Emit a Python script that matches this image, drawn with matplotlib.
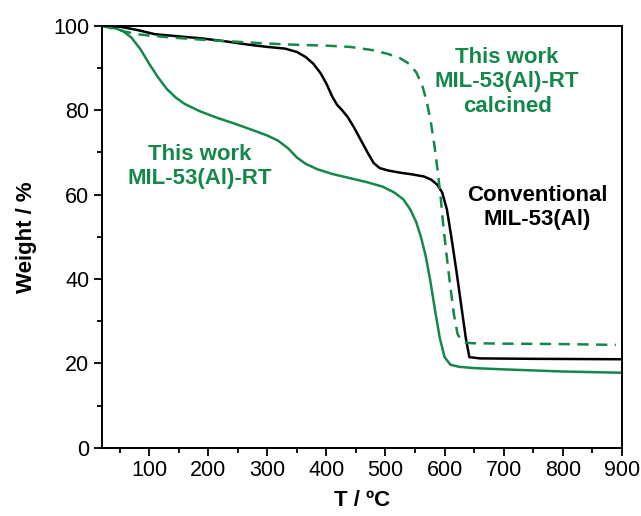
import numpy as np
import matplotlib.pyplot as plt
from matplotlib.ticker import MultipleLocator

plt.rcParams['font.family'] = ['Liberation Sans', 'DejaVu Sans']

green = '#13884a'

# MIL-53(Al)-RT (this work)
t_rt = [20, 40, 55, 70, 85, 100, 115, 130, 145, 160, 185, 215, 245, 275, 300, 318, 335, 350,
        365, 385, 410, 440, 470, 495, 515, 530, 542, 552, 560, 568, 576, 584, 592, 600,
        610, 625, 650, 700, 800, 900]
w_rt = [100, 99.5, 98.8, 97.2, 94.5, 91.0, 87.8, 85.0, 83.0, 81.5, 79.8, 78.2, 76.8, 75.3,
        74.0, 72.8, 71.0, 68.8, 67.3, 66.0, 64.9, 63.9, 62.9, 61.9, 60.5, 58.9, 56.5, 53.5,
        50.0, 45.5, 39.5, 32.5, 26.0, 21.5, 19.7, 19.2, 18.9, 18.6, 18.1, 17.8]

# conventional MIL-53(Al)
t_conv = [20, 50, 80, 110, 150, 190, 230, 270, 300, 330, 350, 365, 378, 390, 400, 410, 418,
          426, 436, 446, 458, 470, 480, 490, 505, 525, 545, 565, 578, 588, 596, 604, 612,
          620, 628, 636, 642, 660, 750, 900]
w_conv = [100, 99.8, 99.0, 98.0, 97.5, 97.0, 96.3, 95.5, 95.0, 94.6, 93.8, 92.6, 91.0, 88.8,
          86.3, 83.2, 81.3, 80.1, 78.4, 76.1, 73.0, 69.9, 67.5, 66.3, 65.7, 65.2, 64.8, 64.3,
          63.5, 62.3, 60.5, 56.5, 49.5, 42.0, 34.0, 26.0, 21.5, 21.2, 21.1, 21.0]

# MIL-53(Al)-RT after calcination
t_calc = [20, 40, 60, 80, 100, 140, 190, 250, 300, 350, 400, 440, 480, 505, 525, 540, 552,
          562, 570, 577, 583, 588, 593, 598, 604, 610, 616, 622, 628, 635, 645, 700, 800, 890]
w_calc = [100, 99.3, 98.6, 98.0, 97.7, 97.2, 96.7, 96.2, 95.8, 95.5, 95.3, 95.0, 94.2, 93.3,
          92.3, 91.0, 89.0, 86.0, 82.0, 77.0, 71.5, 66.0, 60.0, 52.5, 45.0, 38.0, 31.5, 27.0,
          25.5, 25.0, 24.8, 24.7, 24.6, 24.4]

fig = plt.figure(figsize=(6.41, 5.16), dpi=100)
ax = fig.add_axes([0.159, 0.132, 0.811, 0.818])

ax.plot(t_rt, w_rt, color=green, lw=1.8)
ax.plot(t_conv, w_conv, color='black', lw=1.8)
ax.plot(t_calc, w_calc, color=green, lw=1.8, linestyle=(0, (4.5, 3)))

ax.set_xlim(20, 900)
ax.set_ylim(0, 100)
ax.set_xticks([100, 200, 300, 400, 500, 600, 700, 800, 900])
ax.xaxis.set_minor_locator(MultipleLocator(50))
ax.yaxis.set_major_locator(MultipleLocator(20))
ax.yaxis.set_minor_locator(MultipleLocator(10))
ax.tick_params(which='both', direction='out', width=1.3, labelsize=15.5, top=False, right=False)
ax.tick_params(which='major', length=6, pad=3)
ax.tick_params(which='minor', length=3.5)
for s in ax.spines.values():
    s.set_linewidth(1.4)

ax.set_xlabel('T / ºC', fontsize=16, fontweight='bold', labelpad=6)
ax.set_ylabel('Weight / %', fontsize=16, fontweight='bold', labelpad=12)

ax.text(186, 66.6, 'This work\nMIL-53(Al)-RT', color=green, fontsize=16,
        fontweight='bold', ha='center', va='center', linespacing=1.2)
ax.text(706, 86.7, 'This work\nMIL-53(Al)-RT\ncalcined', color=green, fontsize=16,
        fontweight='bold', ha='center', va='center', linespacing=1.2)
ax.text(757, 56.9, 'Conventional\nMIL-53(Al)', color='black', fontsize=16,
        fontweight='bold', ha='center', va='center', linespacing=1.2)

fig.savefig('out.png', dpi=100)
